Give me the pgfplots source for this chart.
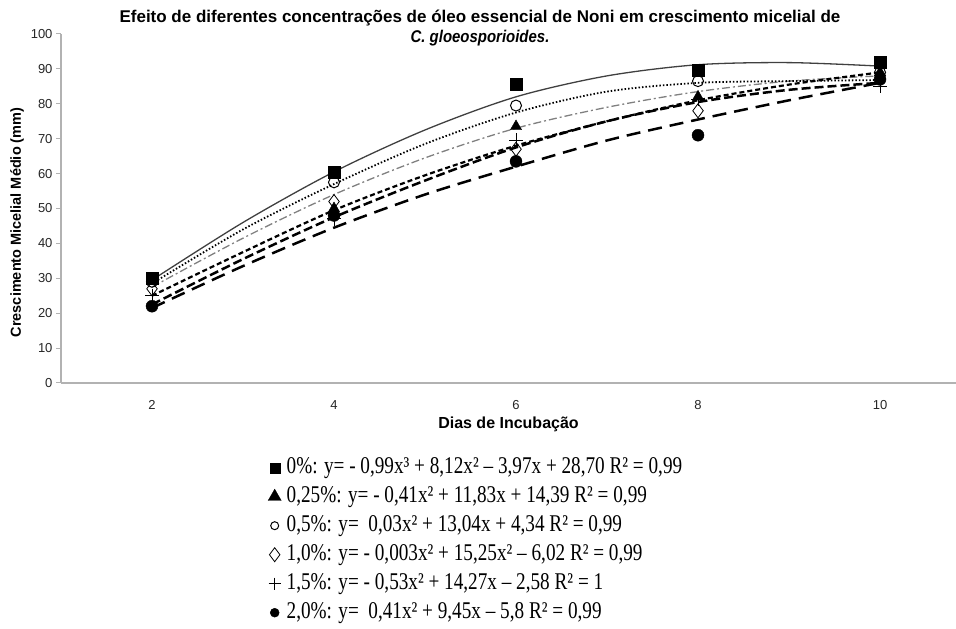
\documentclass[border=0pt]{standalone}
\usepackage{fontspec}
\setmainfont{Liberation Sans}
\newfontfamily\legfont{Liberation Serif}
\usepackage{graphicx}
\usepackage{pgfplots}
\pgfplotsset{compat=1.18}
\begin{document}
\begin{tikzpicture}[x=1pt,y=1pt]
\useasboundingbox (0,0) rectangle (956,629);
\begin{axis}[
  at={(61pt,246pt)}, anchor=south west,
  scale only axis, width=895pt, height=349pt,
  xmin=1, xmax=10.835, ymin=0, ymax=100,
  axis x line=bottom, axis y line=left,
  axis line style={draw=gray!60, line width=1.5pt, -},
  xtick={2,4,6,8,10}, ytick={0,10,...,100},
  x tick style={draw=none}, y tick style={draw=gray!60, line width=1pt},
  tick align=outside, major tick length=5pt,
  tick label style={font=\fontsize{13}{13}\selectfont, text=black!85},
  x tick label style={yshift=-9pt},
  /pgf/number format/assume math mode=true,
  xlabel={Dias de Incubação}, xlabel style={font=\bfseries\fontsize{16}{16}\selectfont},
  ylabel={Crescimento Micelial Médio (mm)},
  every axis y label/.append style={font=\bfseries\fontsize{14.5}{14.5}\selectfont, at={(axis description cs:-0.0492,0.46)}, anchor=center},
  clip=false,
  legend cell align=left,
  legend image code/.code={\path[draw=none,fill=none] (0pt,0pt) -- (18pt,0pt); \draw[#1] plot coordinates {(6pt,0pt)};},
  legend style={at={(0.2313,-0.2106)}, anchor=north west, draw=none, fill=none,
    font=\legfont\fontsize{24}{29}\selectfont, inner sep=0pt, row sep=7pt,
    nodes={inner sep=0pt, text height=17pt, text depth=5pt}},
]
% fitted curves
\addplot[smooth, black!75, line width=1.3pt, forget plot] coordinates {(2,29.5)(3,46)(4,60.5)(5,72.5)(6,82)(7,88)(8,91.2)(9,91.8)(10,90.8)};
\addplot[smooth, gray, line width=1.3pt, dash pattern=on 8pt off 3pt on 2pt off 3pt, forget plot] coordinates {(2,27.5)(3,41.5)(4,54)(5,64.5)(6,73)(7,79)(8,83.5)(9,86.5)(10,88)};
\addplot[smooth, black, line width=1.8pt, dash pattern=on 1.5pt off 2pt, forget plot] coordinates {(2,28.5)(3,44)(4,57)(5,68.5)(6,77.5)(7,83.5)(8,86)(9,86.5)(10,86.8)};
\addplot[smooth, black, line width=2.2pt, dash pattern=on 5pt off 3pt, forget plot] coordinates {(2,25)(3,37.5)(4,49.5)(5,59.5)(6,68)(7,75)(8,81)(9,85.5)(10,89)};
\addplot[smooth, black, line width=2.5pt, dash pattern=on 9pt off 4pt, forget plot] coordinates {(2,22.5)(3,35.5)(4,47.5)(5,58)(6,67.5)(7,75)(8,80.5)(9,84)(10,86)};
\addplot[smooth, black, line width=2.5pt, dash pattern=on 14pt off 8pt, forget plot] coordinates {(2,21.5)(3,33.5)(4,44.5)(5,54)(6,62)(7,69.5)(8,75.5)(9,81)(10,86)};
% observed means
\addplot[only marks, mark=square*, mark size=6pt, black, legend image post style={mark size=5pt}] coordinates {(2,30)(4,60.5)(6,85.5)(8,89.5)(10,92)};
\addlegendentry{\scalebox{0.8}[1]{0\%: y= - 0,99x³ + 8,12x² – 3,97x + 28,70 R² = 0,99}}
\addplot[only marks, mark=triangle*, mark size=6.5pt, black, legend image post style={mark size=7.5pt}] coordinates {(2,29.5)(4,50)(6,73.5)(8,82)(10,89)};
\addlegendentry{\scalebox{0.8}[1]{0,25\%: y= - 0,41x² + 11,83x + 14,39 R² = 0,99}}
\addplot[only marks, mark=o, mark size=5.5pt, black, mark options={fill=white, line width=1pt}, legend image post style={mark size=4pt}] coordinates {(2,29)(4,57.5)(6,79.5)(8,86.5)(10,89)};
\addlegendentry{\scalebox{0.8}[1]{0,5\%: y=~~0,03x² + 13,04x + 4,34 R² = 0,99}}
\addplot[only marks, mark=diamond, mark size=7pt, black, mark options={fill=white, line width=0.8pt}, legend image post style={mark size=7pt}] coordinates {(2,27)(4,52)(6,67)(8,78)(10,88)};
\addlegendentry{\scalebox{0.8}[1]{1,0\%: y= - 0,003x² + 15,25x² – 6,02 R² = 0,99}}
\addplot[only marks, mark=+, mark size=7pt, black, mark options={line width=1pt}, legend image post style={mark size=6pt}] coordinates {(2,25)(4,47)(6,69.6)(8,81.3)(10,85)};
\addlegendentry{\scalebox{0.8}[1]{1,5\%: y= - 0,53x² + 14,27x – 2,58 R² = 1}}
\addplot[only marks, mark=*, mark size=6pt, black, legend image post style={mark size=4.5pt}] coordinates {(2,22)(4,48)(6,63.5)(8,71)(10,87)};
\addlegendentry{\scalebox{0.8}[1]{2,0\%: y=~~0,41x² + 9,45x – 5,8 R² = 0,99}}
\end{axis}
\node[font=\bfseries\fontsize{17}{17}\selectfont] at (480,611) {Efeito de diferentes concentrações de óleo essencial de Noni em crescimento micelial de};
\node[font=\bfseries\itshape\fontsize{17}{17}\selectfont] at (480,591) {\scalebox{0.88}[1]{C. gloeosporioides.}};
\end{tikzpicture}
\end{document}
